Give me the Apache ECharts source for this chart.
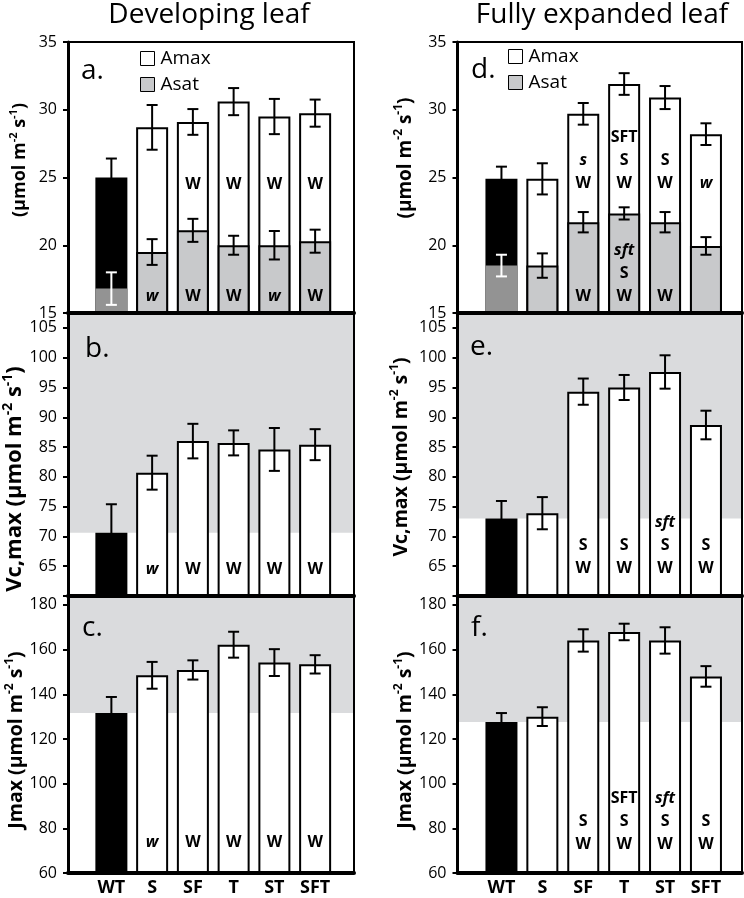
<!DOCTYPE html>
<html><head><meta charset="utf-8">
<script src="https://cdn.jsdelivr.net/npm/echarts@6/dist/echarts.min.js"></script>
<style>html,body{margin:0;padding:0;background:#fff}#c{width:744px;height:898px}</style>
</head><body><div id="c"></div>
<script>
// ---------------- data ----------------
const categories = ['WT', 'S', 'SF', 'T', 'ST', 'SFT'];
// Developing leaf
const devAmax = [25.0, 28.7, 29.1, 30.6, 29.5, 29.75];
const devAmaxErr = [1.4, 1.65, 0.95, 1.0, 1.3, 1.0];
const devAsat = [16.8, 19.5, 21.1, 20.0, 20.0, 20.3];
const devAsatErr = [1.2, 0.95, 0.85, 0.7, 1.05, 0.85];
const devVcmax = [70.6, 80.7, 86.0, 85.7, 84.6, 85.4];
const devVcmaxErr = [4.8, 2.85, 2.9, 2.1, 3.6, 2.6];
const devJmax = [131.6, 148.5, 150.9, 162.2, 154.2, 153.4];
const devJmaxErr = [7.2, 6.0, 4.3, 5.8, 6.0, 4.1];
// Fully expanded leaf
const fulAmax = [24.9, 24.9, 29.7, 31.9, 30.9, 28.2];
const fulAmaxErr = [0.9, 1.15, 0.8, 0.8, 0.85, 0.8];
const fulAsat = [18.5, 18.5, 21.7, 22.35, 21.7, 19.95];
const fulAsatErr = [0.8, 0.9, 0.75, 0.45, 0.75, 0.65];
const fulVcmax = [73.0, 73.9, 94.3, 95.0, 97.6, 88.7];
const fulVcmaxErr = [2.95, 2.7, 2.2, 2.1, 2.8, 2.4];
const fulJmax = [127.6, 130.0, 164.1, 167.9, 164.1, 148.0];
const fulJmaxErr = [4.0, 4.2, 5.0, 3.7, 5.9, 4.6];
// significance letters (lowercase = italic)
const devAmaxSig = ['', '', 'W', 'W', 'W', 'W'];
const devAsatSig = ['', 'w', 'W', 'W', 'w', 'W'];
const devVcmaxSig = ['', 'w', 'W', 'W', 'W', 'W'];
const devJmaxSig = ['', 'w', 'W', 'W', 'W', 'W'];
const fulAmaxSig = ['', '', 's\nW', 'SFT\nS\nW', 'S\nW', 'w'];
const fulAsatSig = ['', '', 'W', 'sft\nS\nW', 'W', ''];
const fulVcmaxSig = ['', '', 'S\nW', 'S\nW', 'sft\nS\nW', 'S\nW'];
const fulJmaxSig = ['', '', 'S\nW', 'SFT\nS\nW', 'sft\nS\nW', 'S\nW'];
// tick labels
const ticksA = [15, 20, 25, 30, 35];
const ticksVcTick = [60, 65, 70, 75, 80, 85, 90, 95, 100, 105];
const ticksVcLabel = [65, 70, 75, 80, 85, 90, 95, 100, 105];
const ticksJ = [60, 80, 100, 120, 140, 160, 180];
const columnTitles = ['Developing leaf', 'Fully expanded leaf'];
const legendNames = ['Amax', 'Asat'];

// ---------------- layout ----------------
const FONT = 'Open Sans';
const GRAY_BG = '#dadbdd', GRAY_BAR = '#c8c9cb', GRAY_WT = '#939393';
const cols = [
  {left: 68, width: 286, dLeft: 91, dWidth: 244.5, legendLeft: 140, legendTop: 49, titleX: 209},
  {left: 457.5, width: 284.5, dLeft: 481, dWidth: 245.4, legendLeft: 508, legendTop: 47, titleX: 602}
];
const rows = [
  {top: 42, height: 271, min: 15, max: 35, ticks: ticksA, labels: ticksA},
  {top: 313, height: 283, min: 60, max: 107.5, ticks: ticksVcTick, labels: ticksVcLabel},
  {top: 596, height: 277, min: 60, max: 184, ticks: ticksJ, labels: ticksJ}
];
const sup = (t) => '{sup|' + t + '}';
const unit = '(µmol m' + sup('-2') + ' s' + sup('-1') + ')';
const panels = [
  {col: 0, row: 0, letter: 'a.', lx: 81, ly: 71, v: devAmax, e: devAmaxErr, v2: devAsat, e2: devAsatErr, s: devAmaxSig, s2: devAsatSig, lev: 24.5, lev2: 16.25,
   name: unit, nx: 20, ny: 160, nfs: 18},
  {col: 0, row: 1, letter: 'b.', lx: 85, ly: 349, v: devVcmax, e: devVcmaxErr, s: devVcmaxSig, lev: 64.4,
   name: 'Vc,max ' + unit, nx: 15, ny: 479, nfs: 22},
  {col: 0, row: 2, letter: 'c.', lx: 82, ly: 628, v: devJmax, e: devJmaxErr, s: devJmaxSig, lev: 73.8,
   name: 'Jmax ' + unit, nx: 16, ny: 740, nfs: 19.5},
  {col: 1, row: 0, letter: 'd.', lx: 471, ly: 70, v: fulAmax, e: fulAmaxErr, v2: fulAsat, e2: fulAsatErr, s: fulAmaxSig, s2: fulAsatSig, lev: 24.55, lev2: 16.25,
   name: unit, nx: 405.5, ny: 158, nfs: 19},
  {col: 1, row: 1, letter: 'e.', lx: 470, ly: 347, v: fulVcmax, e: fulVcmaxErr, s: fulVcmaxSig, lev: 64.6,
   name: 'Vc,max ' + unit, nx: 401, ny: 457, nfs: 19.5},
  {col: 1, row: 2, letter: 'f.', lx: 471, ly: 628, v: fulJmax, e: fulJmaxErr, s: fulJmaxSig, lev: 73,
   name: 'Jmax ' + unit, nx: 405.5, ny: 740, nfs: 19.5}
];

const grid = [], xAxis = [], yAxis = [], series = [], graphic = [];

function errSeries(ai, vals, errs, colors) {
  return {
    type: 'custom', xAxisIndex: ai, yAxisIndex: ai, z: 4, silent: true,
    data: vals.map((v, i) => [i, v, errs[i]]),
    renderItem(params, api) {
      const i = api.value(0), v = api.value(1), e = api.value(2);
      const t = api.coord([i, v + e]), b = api.coord([i, v - e]);
      const x = t[0], w = 5.5, c = colors[params.dataIndex];
      const st = {stroke: c, lineWidth: 2};
      return {type: 'group', children: [
        {type: 'line', shape: {x1: x, y1: t[1], x2: x, y2: b[1]}, style: st},
        {type: 'line', shape: {x1: x - w, y1: t[1], x2: x + w, y2: t[1]}, style: st},
        {type: 'line', shape: {x1: x - w, y1: b[1], x2: x + w, y2: b[1]}, style: st}
      ]};
    }
  };
}
const LH = 23;
function sigSeries(ai, sigs, level) {
  return {
    type: 'custom', xAxisIndex: ai, yAxisIndex: ai, z: 5, silent: true,
    data: sigs.map((s, i) => [i, level]),
    renderItem(params, api) {
      const s = sigs[params.dataIndex];
      if (!s) return {type: 'group', children: []};
      const p = api.coord([api.value(0), api.value(1)]);
      const text = s.split('\n').map(l => (l === l.toLowerCase() ? '{i|' + l + '}' : '{b|' + l + '}')).join('\n');
      return {type: 'text', x: p[0], y: p[1] + LH / 2, style: {
        text, align: 'center', verticalAlign: 'bottom',
        rich: {
          b: {fontFamily: FONT, fontWeight: 'bold', fontSize: 16, lineHeight: LH, fill: '#000'},
          i: {fontFamily: FONT, fontWeight: 'bold', fontStyle: 'italic', fontSize: 16, lineHeight: LH, fill: '#000'}
        }
      }};
    }
  };
}

panels.forEach((p, k) => {
  const c = cols[p.col], r = rows[p.row];
  const fi = 2 * k, di = 2 * k + 1;
  // frame grid
  grid.push({left: c.left, top: r.top, width: c.width, height: r.height, show: true, borderColor: '#000', borderWidth: 2, backgroundColor: 'transparent', z: 6});
  xAxis.push({gridIndex: fi, type: 'value', min: 0, max: 1, z: 7, position: 'bottom',
    axisLine: {show: true, onZero: false, lineStyle: {color: '#000', width: 4}},
    axisTick: {show: false}, axisLabel: {show: false}, splitLine: {show: false}});
  yAxis.push({gridIndex: fi, type: 'value', min: r.min, max: r.max, z: 7,
    axisLine: {show: true, onZero: false, lineStyle: {color: '#000', width: 3}},
    axisTick: {show: true, length: 5, lineStyle: {color: '#000', width: 2}, customValues: r.ticks},
    axisLabel: {show: true, customValues: r.labels, fontFamily: FONT, fontSize: 16, color: '#000', margin: 11},
    splitLine: {show: false}});
  // data grid
  grid.push({left: c.dLeft, top: r.top, width: c.dWidth, height: r.height, show: false});
  xAxis.push({gridIndex: di, type: 'category', data: categories, show: p.row === 2,
    axisLine: {show: false}, axisTick: {show: false},
    axisLabel: {fontFamily: FONT, fontWeight: 'bold', fontSize: 18, color: '#000', margin: 6}});
  yAxis.push({gridIndex: di, type: 'value', min: r.min, max: r.max, show: false, splitLine: {show: false}});

  // gray background band above the WT value
  if (p.row > 0) {
    series.push({type: 'line', xAxisIndex: fi, yAxisIndex: fi, data: [], z: 1, silent: true,
      markArea: {silent: true, itemStyle: {color: GRAY_BG}, data: [[{yAxis: p.v[0]}, {yAxis: r.max}]]}});
  }
  // bars
  series.push({type: 'bar', name: p.row === 0 ? legendNames[0] : 'v' + k, xAxisIndex: di, yAxisIndex: di, z: 2,
    barWidth: 32, barGap: '-100%',
    itemStyle: {color: '#fff', borderColor: '#000', borderWidth: 2},
    data: p.v.map((v, i) => i === 0 ? {value: v, itemStyle: {color: '#000'}} : v)});
  if (p.v2) {
    series.push({type: 'bar', name: legendNames[1], xAxisIndex: di, yAxisIndex: di, z: 3,
      barWidth: 32, barGap: '-100%',
      itemStyle: {color: GRAY_BAR, borderColor: '#000', borderWidth: 2},
      data: p.v2.map((v, i) => i === 0 ? {value: v, itemStyle: {color: GRAY_WT, borderWidth: 0}} : v)});
  }
  series.push(errSeries(di, p.v, p.e, p.v.map(() => '#000')));
  if (p.v2) series.push(errSeries(di, p.v2, p.e2, p.v2.map((v, i) => i === 0 ? '#fff' : '#000')));
  series.push(sigSeries(di, p.s, p.lev));
  if (p.s2) series.push(sigSeries(di, p.s2, p.lev2));

  // panel letter
  graphic.push({type: 'text', x: p.lx, y: p.ly, z: 10, style: {text: p.letter, font: '28px "' + FONT + '"', fill: '#000', align: 'left', verticalAlign: 'middle'}});
  // axis title
  const sfs = Math.round(p.nfs * 0.62);
  graphic.push({type: 'text', x: p.nx, y: p.ny, rotation: Math.PI / 2, z: 10, style: {
    text: '{m|' + p.name.replace(/\{sup\|([^}]*)\}/g, '}{sup|$1}{m|') + '}',
    align: 'center', verticalAlign: 'middle',
    rich: {
      m: {fontFamily: FONT, fontWeight: 'bold', fontSize: p.nfs, lineHeight: p.nfs + 6, fill: '#000'},
      sup: {fontFamily: FONT, fontWeight: 'bold', fontSize: sfs, lineHeight: p.nfs + 6, verticalAlign: 'top', fill: '#000'}
    }
  }});
});

cols.forEach((c, j) => {
  graphic.push({type: 'text', x: c.titleX, y: 15, z: 10, style: {text: columnTitles[j], font: '28px "' + FONT + '"', fill: '#000', align: 'center', verticalAlign: 'middle'}});
});

const legend = cols.map(c => ({
  data: legendNames, left: c.legendLeft, top: c.legendTop, orient: 'vertical', padding: 0,
  itemWidth: 14, itemHeight: 14, itemGap: 7, selectedMode: false, icon: 'rect',
  itemStyle: {borderWidth: 1, borderColor: '#000'},
  textStyle: {fontFamily: FONT, fontSize: 19, color: '#000', padding: [0, 0, 0, 1]}
}));

const chart = echarts.init(document.getElementById('c'), null, {renderer: 'canvas'});
chart.setOption({animation: false, backgroundColor: '#fff', grid, xAxis, yAxis, series, graphic, legend});
</script></body></html>
